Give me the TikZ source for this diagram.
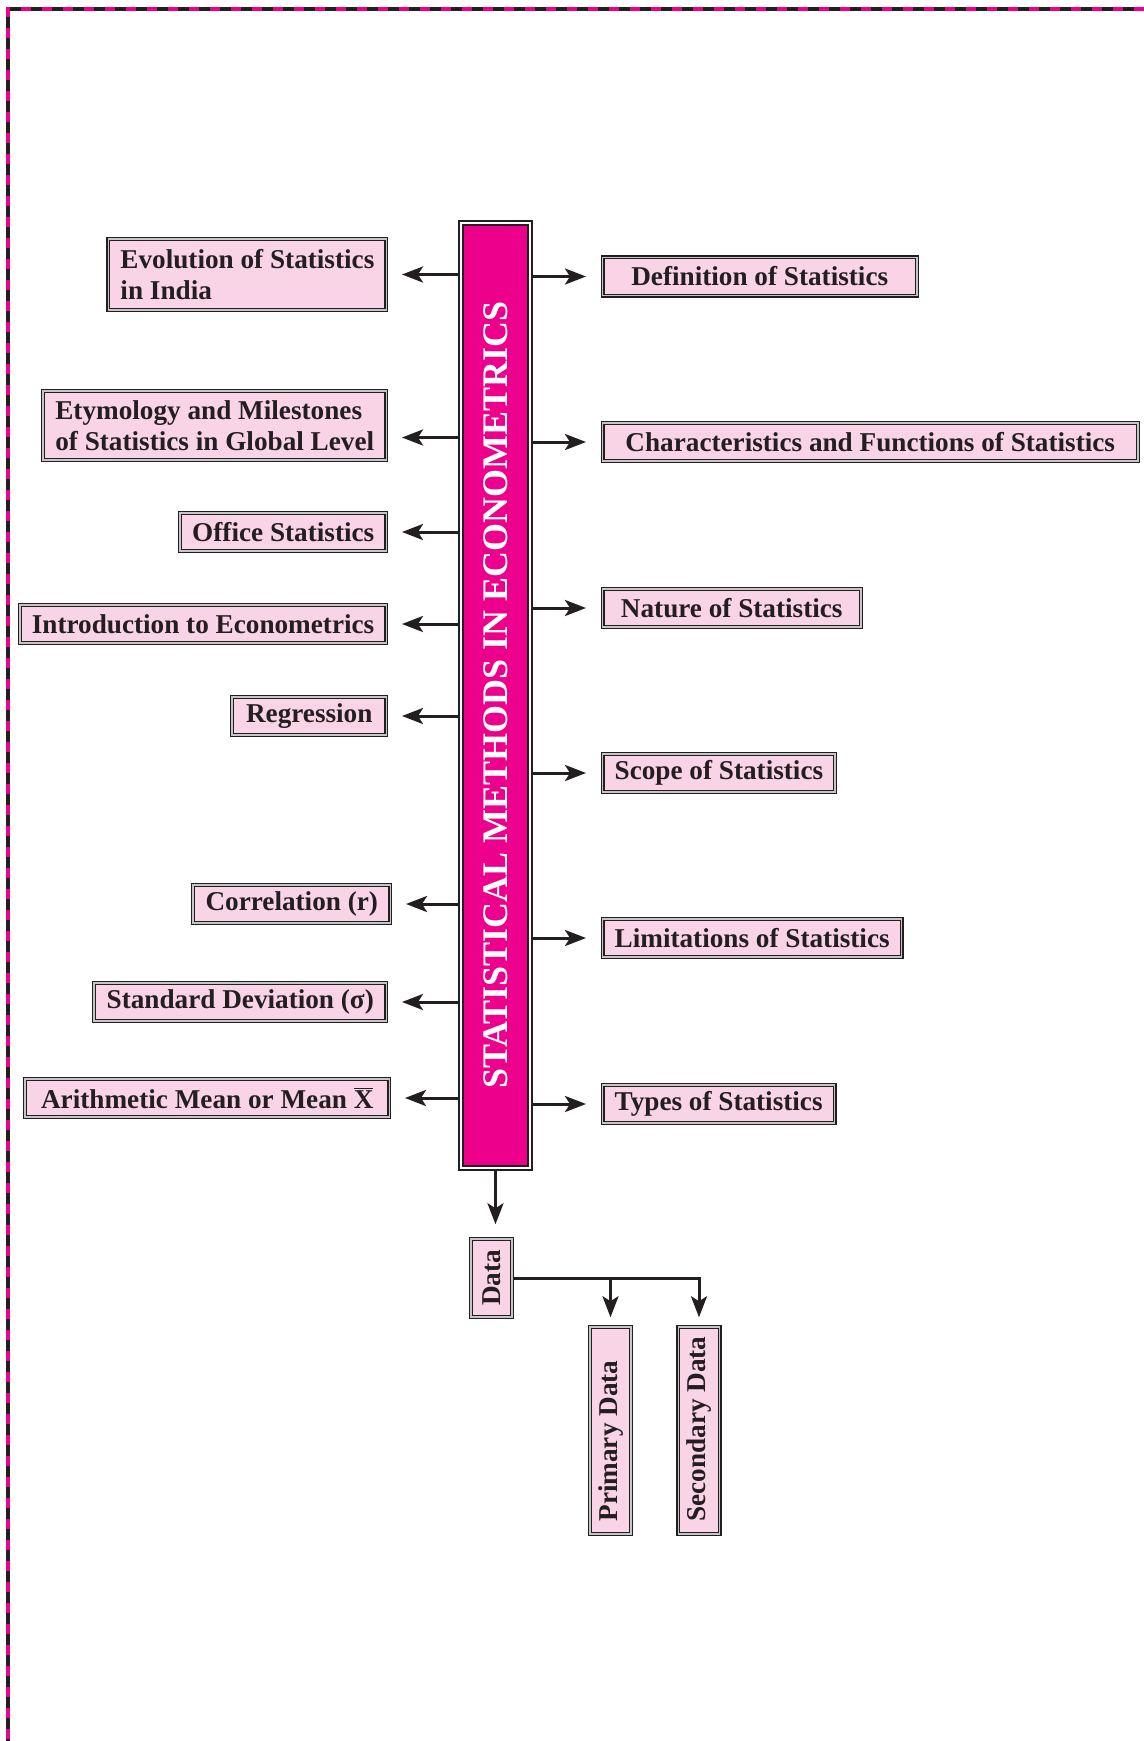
\documentclass[tikz,border=0pt]{standalone}
\usepackage{fontspec}
\setmainfont{Liberation Serif}
\usepackage{graphicx}
\usetikzlibrary{arrows.meta}

\definecolor{boxpink}{HTML}{F9D3E6}
\definecolor{barpink}{HTML}{EC008C}
\definecolor{ink}{HTML}{231F20}

\begin{document}
\begin{tikzpicture}
        [x=0.5pt, y=-0.5pt,
        topic/.style={rectangle, draw=ink, line width=0.65pt, double=gray!45, double distance=0.7pt,
            fill=boxpink, text=ink, font=\bfseries\fontsize{13.6}{15.6}\selectfont,
            inner xsep=6pt, inner ysep=3pt, minimum height=19.1pt},
        bar/.style={rectangle, draw=ink, line width=1pt, double=white, double distance=1pt,
            fill=barpink, text=white, font=\bfseries\fontsize{18}{20}\selectfont,
            inner sep=0pt, minimum width=34.5pt, minimum height=472.5pt},
        arr/.style={ink, line width=1.5pt, -{Stealth[length=10.5pt, width=8pt, inset=2.5pt]}},
        frame/.style={line width=1.6pt}]

        \useasboundingbox (0,0) rectangle (1144,1741);

        % page frame
        \draw[frame, ink] (1144,9) -- (8,9) -- (8,1741);
        \draw[frame, barpink, dash pattern=on 5pt off 5.5pt] (1144,9) -- (8,9) -- (8,1741);

        \node[bar] (sm) at (495.5, 695) {\rotatebox{90}{STATISTICAL METHODS IN ECONOMETRICS}};

        % left side
        \node[topic, anchor=east, align=left, minimum width=138.1pt, minimum height=35.6pt] (evol) at (387, 274.5) {Evolution of Statistics\\in India};
        \node[topic, anchor=east, align=left, minimum width=171.6pt, minimum height=34.6pt] (etym) at (387, 425.5) {Etymology and Milestones\\of Statistics in Global Level};
        \node[topic, anchor=east, minimum width=103.1pt] (office) at (387, 532) {Office Statistics};
        \node[topic, anchor=east, minimum width=182.6pt] (intro) at (387, 624) {Introduction to Econometrics};
        \node[topic, anchor=east, minimum width=77.1pt] (regr) at (387, 716) {Regression};
        \node[topic, anchor=east, minimum width=98.6pt] (corr) at (391, 904) {Correlation (r)};
        \node[topic, anchor=east, minimum width=146.1pt] (sd) at (387, 1002) {Standard Deviation (σ)};
        \node[topic, anchor=east, minimum width=182.1pt] (amean) at (390, 1098) {Arithmetic Mean or Mean $\overline{\mbox{X}}$};

        % right side
        \node[topic, anchor=west, minimum width=157.1pt] (defn) at (602, 276.5) {Definition of Statistics};
        \node[topic, anchor=west, minimum width=267.6pt] (charac) at (602, 442) {Characteristics and Functions of Statistics};
        \node[topic, anchor=west, minimum width=129.1pt] (nature) at (602, 608) {Nature of Statistics};
        \node[topic, anchor=west, minimum width=114.1pt] (scope) at (602, 773) {Scope of Statistics};
        \node[topic, anchor=west, minimum width=148.6pt] (limit) at (602, 938) {Limitations of Statistics};
        \node[topic, anchor=west, minimum width=114.6pt] (types) at (602, 1104) {Types of Statistics};

        % data and its two kinds
        \node[topic, inner sep=0pt, minimum width=20.6pt, minimum height=39.1pt] (data) at (491.5, 1278) {\rotatebox{90}{Data}};
        \node[topic, inner sep=0pt, minimum width=20.6pt, minimum height=103.6pt] (prim) at (610.5, 1430.5) {\rotatebox{90}{\makebox[91pt][l]{Primary Data}}};
        \node[topic, inner sep=0pt, minimum width=20.6pt, minimum height=103.6pt] (sec) at (699, 1430.5) {\rotatebox{90}{\makebox[91pt][l]{Secondary Data}}};

        \coordinate (etymin) at ([yshift=-6pt]etym.east);

        % arrows to the left
        \draw[arr, shorten >=7.5pt] (sm.west |- evol) -- (evol);
        \draw[arr, shorten >=7.5pt] (sm.west |- etymin) -- (etymin);
        \draw[arr, shorten >=7.5pt] (sm.west |- office) -- (office);
        \draw[arr, shorten >=7.5pt] (sm.west |- intro) -- (intro);
        \draw[arr, shorten >=7.5pt] (sm.west |- regr) -- (regr);
        \draw[arr, shorten >=7.5pt] (sm.west |- corr) -- (corr);
        \draw[arr, shorten >=7.5pt] (sm.west |- sd) -- (sd);
        \draw[arr, shorten >=7.5pt] (sm.west |- amean) -- (amean);

        % arrows to the right
        \draw[arr, shorten >=8pt] (sm.east |- defn) -- (defn);
        \draw[arr, shorten >=8pt] (sm.east |- charac) -- (charac);
        \draw[arr, shorten >=8pt] (sm.east |- nature) -- (nature);
        \draw[arr, shorten >=8pt] (sm.east |- scope) -- (scope);
        \draw[arr, shorten >=8pt] (sm.east |- limit) -- (limit);
        \draw[arr, shorten >=8pt] (sm.east |- types) -- (types);

        % arrows down
        \draw[arr, shorten >=7pt] (sm.south) -- (sm.south |- data.north);
        \draw[arr, shorten >=4.5pt] (data.east) -| (sec.north);
        \draw[arr, shorten >=4.5pt] (data.east -| prim.north) -- (prim.north);

\end{tikzpicture}
\end{document}
